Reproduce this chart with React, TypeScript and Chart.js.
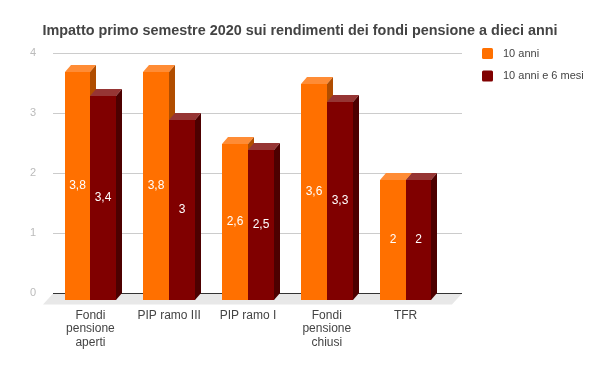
import React, { useEffect, useRef } from 'react';
import { Chart, registerables } from 'chart.js';

Chart.register(...registerables);

const chartTitle = 'Impatto primo semestre 2020 sui rendimenti dei fondi pensione a dieci anni';
const categories: string[][] = [
  ['Fondi', 'pensione', 'aperti'],
  ['PIP ramo III'],
  ['PIP ramo I'],
  ['Fondi', 'pensione', 'chiusi'],
  ['TFR'],
];
const seriesNames = ['10 anni', '10 anni e 6 mesi'];
const values10 = [3.8, 3.8, 2.6, 3.6, 2];
const values10e6 = [3.4, 3.0, 2.5, 3.3, 2];
const yTicks = [0, 1, 2, 3, 4];

const FONT = '"Liberation Sans", Arial, sans-serif';
const DX = 6;
const DY = 7;

const palettes = [
  { front: '#ff7000', top: '#ff8c35', side: '#b04d00' },
  { front: '#800000', top: '#963534', side: '#4d0000' },
];

const fmt = (v: number) => String(v).replace('.', ',');

const bar3d = {
  id: 'bar3d',
  beforeDatasetDraw() {
    return false;
  },
  beforeDatasetsDraw(chart: any) {
    const { ctx, chartArea, scales } = chart;
    const y = scales.y;
    const base = Math.round(y.getPixelForValue(0)) + 0.5;
    const l = chartArea.left;
    const r = chartArea.right;
    ctx.save();
    // floor
    ctx.fillStyle = '#e8e8e8';
    ctx.beginPath();
    ctx.moveTo(l + 2, base);
    ctx.lineTo(r + 17, base);
    ctx.lineTo(r + 7, base + 11);
    ctx.lineTo(l - 8, base + 11);
    ctx.closePath();
    ctx.fill();
    // grid lines
    ctx.lineWidth = 1;
    yTicks.forEach((t) => {
      if (t === 0) return;
      const py = Math.round(y.getPixelForValue(t)) + 0.5;
      ctx.strokeStyle = '#cccccc';
      ctx.beginPath();
      ctx.moveTo(l + 2, py);
      ctx.lineTo(r + 17, py);
      ctx.stroke();
    });
    ctx.strokeStyle = '#333333';
    ctx.beginPath();
    ctx.moveTo(l + 2, base);
    ctx.lineTo(r + 17, base);
    ctx.stroke();
    ctx.restore();
  },
  afterDatasetsDraw(chart: any) {
    const { ctx } = chart;
    const metas = [chart.getDatasetMeta(0), chart.getDatasetMeta(1)];
    const n = categories.length;
    ctx.save();
    const faces: any[] = [];
    for (let i = 0; i < n; i++) {
      metas.forEach((meta: any, d: number) => {
        const el = meta.data[i];
        const { x, y, base, width } = el.getProps(['x', 'y', 'base', 'width'], true);
        const xl = Math.round(x - width / 2);
        const xr = Math.round(x + width / 2);
        const yt = Math.round(y) + DY;
        const yb = Math.round(base) + DY;
        const p = palettes[d];
        ctx.fillStyle = p.front;
        ctx.fillRect(xl, yt, xr - xl, yb - yt);
        ctx.fillStyle = p.top;
        ctx.beginPath();
        ctx.moveTo(xl, yt);
        ctx.lineTo(xl + DX, yt - DY);
        ctx.lineTo(xr + DX, yt - DY);
        ctx.lineTo(xr, yt);
        ctx.closePath();
        ctx.fill();
        ctx.fillStyle = p.side;
        ctx.beginPath();
        ctx.moveTo(xr, yt);
        ctx.lineTo(xr + DX, yt - DY);
        ctx.lineTo(xr + DX, yb - DY);
        ctx.lineTo(xr, yb);
        ctx.closePath();
        ctx.fill();
        const v = chart.data.datasets[d].data[i];
        faces.push({ cx: (xl + xr) / 2, cy: (yt + yb) / 2, text: fmt(v) });
      });
    }
    ctx.fillStyle = '#ffffff';
    ctx.font = `12px ${FONT}`;
    ctx.textAlign = 'center';
    ctx.textBaseline = 'middle';
    faces.forEach((f) => ctx.fillText(f.text, f.cx, f.cy));
    ctx.restore();
  },
  afterDraw(chart: any) {
    const { ctx } = chart;
    ctx.save();
    // title
    ctx.font = `bold 14.4px ${FONT}`;
    ctx.fillStyle = '#444444';
    ctx.textAlign = 'center';
    ctx.textBaseline = 'alphabetic';
    ctx.fillText(chartTitle, 300, 34.5);
    // legend
    ctx.font = `11px ${FONT}`;
    ctx.textBaseline = 'middle';
    ctx.textAlign = 'left';
    const items = [
      { y: 53.5, color: palettes[0].front },
      { y: 76, color: palettes[1].front },
    ];
    items.forEach((it, k) => {
      ctx.fillStyle = it.color;
      ctx.beginPath();
      (ctx as any).roundRect(482, it.y - 5.5, 11, 11, 1.5);
      ctx.fill();
      ctx.fillStyle = '#444444';
      ctx.fillText(seriesNames[k], 503, it.y);
    });
    ctx.restore();
  },
};

export default function App() {
  const ref = useRef<HTMLCanvasElement | null>(null);
  useEffect(() => {
    if (!ref.current) return;
    const chart = new Chart(ref.current, {
      type: 'bar',
      data: {
        labels: categories,
        datasets: [
          { label: seriesNames[0], data: values10, backgroundColor: palettes[0].front },
          { label: seriesNames[1], data: values10e6, backgroundColor: palettes[1].front },
        ],
      },
      options: {
        responsive: false,
        animation: false,
        events: [],
        layout: { padding: { left: 0, right: 155, top: 53, bottom: 0 } },
        datasets: { bar: { categoryPercentage: 0.656, barPercentage: 1 } } as any,
        plugins: {
          legend: { display: false },
          tooltip: { enabled: false },
          title: { display: false },
        },
        scales: {
          x: {
            grid: { display: false, drawTicks: false },
            border: { display: false },
            ticks: {
              color: '#444444',
              font: { family: FONT, size: 12, lineHeight: 1.11 },
              padding: 16,
              maxRotation: 0,
              autoSkip: false,
            },
            afterFit: (s: any) => {
              s.height = 371 - 293;
            },
          },
          y: {
            min: 0,
            max: 4,
            grid: { display: false, drawTicks: false },
            border: { display: false },
            ticks: {
              stepSize: 1,
              color: '#bbbbbb',
              font: { family: FONT, size: 11 },
              padding: 15,
            },
            afterFit: (s: any) => {
              s.width = 51;
            },
          },
        },
      },
      plugins: [bar3d],
    });
    return () => chart.destroy();
  }, []);
  return (
    <div style={{ position: 'fixed', left: 0, top: 0, width: 600, height: 371, background: '#fff' }}>
      <canvas ref={ref} width={600} height={371} />
    </div>
  );
}
